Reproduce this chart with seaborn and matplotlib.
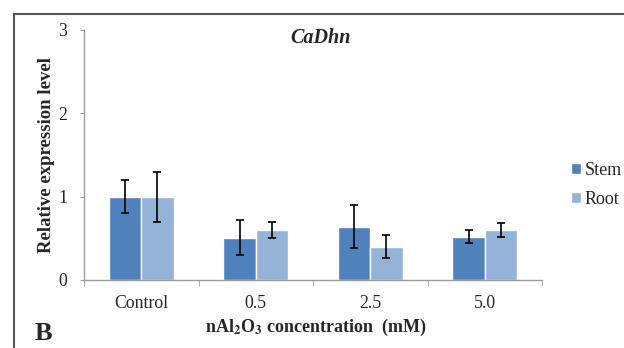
import matplotlib
matplotlib.use('Agg')
import matplotlib.pyplot as plt
import seaborn as sns
import pandas as pd
from matplotlib.lines import Line2D

# dados
concentracoes = ['Control', '0.5', '2.5', '5.0']
tecidos = ['Stem', 'Root']
stem = [1.00, 0.51, 0.64, 0.52]
stem_err = [0.20, 0.21, 0.26, 0.08]
root = [1.00, 0.60, 0.40, 0.60]
root_err = [0.30, 0.10, 0.14, 0.08]

df = pd.DataFrame({
    'Concentracao': concentracoes * 2,
    'Tecido': ['Stem'] * 4 + ['Root'] * 4,
    'Valor': stem + root,
})
erros = {'Stem': stem_err, 'Root': root_err}

sns.set_style('white')
plt.rcParams['font.family'] = ['Liberation Serif', 'DejaVu Serif']
plt.rcParams['mathtext.fontset'] = 'stix'

fig = plt.figure(figsize=(6.24, 3.48), dpi=100)
ax = fig.add_axes([84 / 624, 1 - 280 / 348, 458 / 624, 250 / 348])

sns.barplot(data=df, x='Concentracao', y='Valor', hue='Tecido',
            hue_order=tecidos, palette=['#4F81BD', '#95B3D7'],
            width=0.565, errorbar=None, saturation=1, ax=ax)

# barras de erro sobre cada barra
for cont, tecido in zip(ax.containers, tecidos):
    xs = [b.get_x() + b.get_width() / 2 for b in cont]
    ys = [b.get_height() for b in cont]
    ax.errorbar(xs, ys, yerr=erros[tecido], fmt='none', ecolor='black',
                elinewidth=1.2, capsize=3, capthick=1.2)

ax.set_ylim(0, 3)
ax.set_xlim(-0.5, 3.5)
ax.set_yticks([0, 1, 2, 3])
ax.set_xlabel('')
ax.set_ylabel('')
for s in ['top', 'right']:
    ax.spines[s].set_visible(False)
for s in ['left', 'bottom']:
    ax.spines[s].set_color('#9a9a9a')
    ax.spines[s].set_linewidth(1)
ax.set_xticks([-0.5, 0.5, 1.5, 2.5, 3.5], minor=True)
ax.tick_params(axis='x', which='major', length=0, pad=11, labelsize=12.8)
ax.tick_params(axis='x', which='minor', length=4, color='#9a9a9a', direction='out')
ax.tick_params(axis='y', length=3, color='#9a9a9a', direction='out', pad=9, labelsize=12.8)
ax.tick_params(left=True, bottom=True)
ax.tick_params(axis='x', which='minor', bottom=True)

leg = ax.legend(loc='center left', bbox_to_anchor=(562 / 624, 1 - 185 / 348),
                bbox_transform=fig.transFigure, frameon=False, fontsize=13,
                handlelength=0.55, handleheight=0.55, handletextpad=0.2,
                labelspacing=0.65, borderpad=0, title=None)

fig.text(321 / 624, 1 - 38 / 348, 'CaDhn', fontsize=14.5, fontweight='bold',
         fontstyle='italic', ha='center', va='center')
fig.text(47 / 624, 1 - 155 / 348, 'Relative expression level', fontsize=13.5,
         fontweight='bold', rotation=90, ha='center', va='center')
fig.text(316 / 624, 1 - 327 / 348,
         r'nAl$_\mathbf{2}$O$_\mathbf{3}$ concentration  (mM)', fontsize=13,
         fontweight='bold', ha='center', va='center')
fig.text(35 / 624, 1 - 340 / 348, 'B', fontsize=19, fontweight='bold',
         ha='left', va='baseline')

# moldura da figura
fig.add_artist(Line2D([14 / 624, 1], [1 - 14 / 348] * 2, transform=fig.transFigure,
                      color='#555555', lw=1.5))
fig.add_artist(Line2D([14 / 624] * 2, [0, 1 - 14 / 348], transform=fig.transFigure,
                      color='#555555', lw=1.5))

fig.savefig('out.png', dpi=100, facecolor='white')
